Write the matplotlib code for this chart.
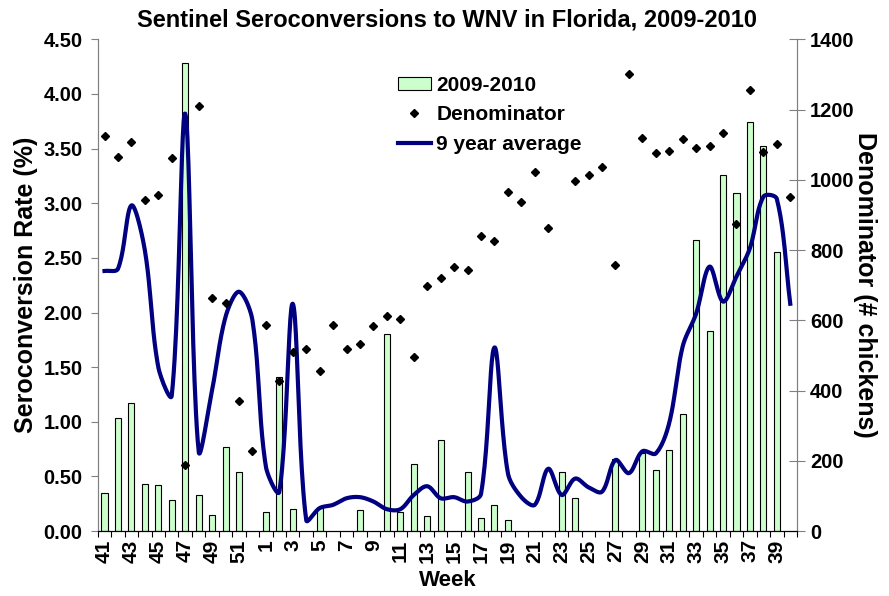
import numpy as np
import matplotlib.pyplot as plt
from matplotlib.patches import Patch
from matplotlib.lines import Line2D

plt.rcParams['font.family'] = ['Liberation Sans', 'DejaVu Sans']
plt.rcParams['font.weight'] = 'bold'

weeks = list(range(41, 53)) + list(range(1, 41))

# seroconversion rate 2009-2010 (%), 0 = no bar
rate = [0.35, 1.03, 1.17, 0.43, 0.42, 0.28, 4.28, 0.33, 0.15, 0.77, 0.54, 0,
        0.17, 1.41, 0.20, 0, 0.21, 0, 0, 0.19, 0, 1.80, 0.17, 0.61, 0.14, 0.83,
        0, 0.54, 0.12, 0.24, 0.10, 0, 0, 0, 0.54, 0.30, 0, 0, 0.66, 0,
        0.71, 0.56, 0.74, 1.07, 2.66, 1.83, 3.26, 3.09, 3.74, 3.52, 2.55, 0]

# number of chickens tested
denom = [1126, 1064, 1108, 943, 957, 1061, 187, 1210, 664, 649, 370, 227,
         586, 427, 510, 519, 456, 588, 518, 532, 583, 611, 604, 495, 697, 721,
         751, 744, 841, 826, 964, 937, 1021, 864, np.nan, 998, 1015, 1036, 758, 1302,
         1120, 1076, 1083, 1117, 1090, 1096, 1134, 875, 1257, 1080, 1101, 952]

# 9 year average rate (%)
avg9 = [2.38, 2.40, 2.98, 2.57, 1.50, 1.24, 3.82, 0.73, 1.29, 1.96, 2.19, 1.93,
        0.59, 0.36, 2.08, 0.10, 0.21, 0.24, 0.30, 0.31, 0.27, 0.20, 0.20, 0.33,
        0.41, 0.30, 0.31, 0.27, 0.34, 1.68, 0.53, 0.31, 0.24, 0.57, 0.33, 0.48,
        0.40, 0.36, 0.65, 0.53, 0.73, 0.71, 0.99, 1.69, 1.99, 2.42, 2.10, 2.33,
        2.59, 3.06, 3.04, 2.08]


def excel_smooth(ax, xv, yv, n=24):
    # bezier smoothing done in screen space, roughly like Excel's smoothed line
    pts = ax.transData.transform(np.column_stack([xv, yv]))
    out = [pts[:1]]
    m = len(pts)
    for i in range(m - 1):
        p1, p2 = pts[i], pts[i + 1]
        p0 = pts[i - 1] if i > 0 else p1
        p3 = pts[i + 2] if i + 2 < m else p2
        d01 = np.hypot(*(p1 - p0))
        d12 = np.hypot(*(p2 - p1))
        d23 = np.hypot(*(p3 - p2))
        c1 = p1 + (p2 - p0) * (d12 / (d01 + d12)) / 3
        c2 = p2 - (p3 - p1) * (d12 / (d12 + d23)) / 3
        t = np.linspace(0, 1, n)[1:, None]
        seg = ((1 - t) ** 3 * p1 + 3 * (1 - t) ** 2 * t * c1
               + 3 * (1 - t) * t ** 2 * c2 + t ** 3 * p2)
        out.append(seg)
    curve = ax.transData.inverted().transform(np.vstack(out))
    return curve[:, 0], curve[:, 1]


x = np.arange(len(weeks))
rate_plot = np.where(np.array(rate) > 0, rate, np.nan)

fig = plt.figure(figsize=(8.89, 5.96), dpi=100)
ax = fig.add_axes([0.110, 0.109, 0.7865, 0.825])
ax2 = ax.twinx()

ax.set_xlim(-0.5, len(weeks) - 0.5)
ax.set_ylim(0, 4.5)
ax2.set_ylim(0, 1400)

ax.bar(x, rate_plot, width=0.45, color='#ccffcc', edgecolor='black', linewidth=0.8, zorder=2)
sx, sy = excel_smooth(ax, x, avg9)
ax.plot(sx, sy, color='#000080', linewidth=3, zorder=3)
ax2.plot(x, denom, linestyle='none', marker='D', markersize=4.5, color='black')

ax.set_yticks(np.arange(0, 4.51, 0.5))
ax.set_yticklabels(['%.2f' % v for v in np.arange(0, 4.51, 0.5)], fontsize=14.5, fontweight='bold')
ax2.set_yticks(np.arange(0, 1401, 200))
ax2.set_yticklabels([str(v) for v in range(0, 1401, 200)], fontsize=14.5, fontweight='bold')

ax.set_xticks(np.arange(-0.5, len(weeks), 1))
ax.set_xticklabels([])
ax.set_xticks(x[::2], minor=True)
ax.set_xticklabels([str(w) for w in weeks[::2]], minor=True, rotation=90,
                   fontsize=15, fontweight='bold')
ax.tick_params(axis='x', which='major', length=4.5, color='black')
ax.tick_params(axis='x', which='minor', length=0, pad=6)
ax.tick_params(axis='y', length=5, pad=6, color='#808080')
ax2.tick_params(axis='y', direction='inout', length=11, pad=4, color='#808080')

for a in (ax, ax2):
    a.spines['top'].set_visible(False)
    a.spines['left'].set_color('#808080')
    a.spines['right'].set_color('#808080')

ax.set_ylabel('Seroconversion Rate (%)', fontsize=18, fontweight='bold', labelpad=4)
ax2.set_ylabel('Denominator (# chickens)', fontsize=18, fontweight='bold', rotation=270, labelpad=16)
ax.set_xlabel('Week', fontsize=16, fontweight='bold', labelpad=5)
ax.set_title('Sentinel Seroconversions to WNV in Florida, 2009-2010', fontsize=17,
             fontweight='bold', pad=9)

handles = [Patch(facecolor='#ccffcc', edgecolor='black', linewidth=0.8),
           Line2D([], [], linestyle='none', marker='D', markersize=4.5, color='black'),
           Line2D([], [], color='#000080', linewidth=3)]
ax2.legend(handles, ['2009-2010', 'Denominator', '9 year average'], loc='upper left',
           bbox_to_anchor=(0.414, 0.947), frameon=False, fontsize=15,
           handlelength=1.6, handleheight=0.6, handletextpad=0.25, labelspacing=0.5, borderpad=0)

fig.savefig('out.png', dpi=100)
